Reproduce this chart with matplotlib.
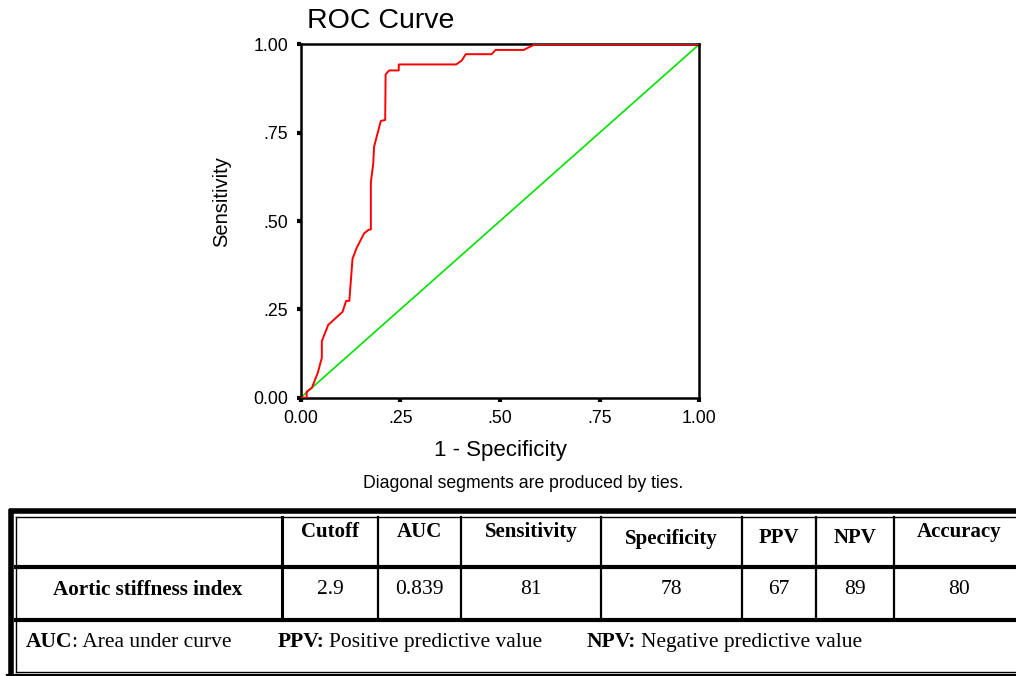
import matplotlib
matplotlib.use("Agg")
import matplotlib.pyplot as plt

# ROC curve
fpr = [0.0, 0.015, 0.015, 0.028, 0.043, 0.053, 0.053, 0.069, 0.105, 0.114, 0.122,
       0.130, 0.140, 0.159, 0.170, 0.176, 0.176, 0.182, 0.184, 0.201, 0.212, 0.213,
       0.222, 0.246, 0.246, 0.390, 0.404, 0.414, 0.479, 0.489, 0.559, 0.588, 1.0]
tpr = [0.0, 0.0, 0.017, 0.028, 0.071, 0.113, 0.160, 0.206, 0.243, 0.274, 0.274,
       0.393, 0.423, 0.465, 0.475, 0.476, 0.609, 0.663, 0.710, 0.783, 0.786, 0.915,
       0.926, 0.926, 0.943, 0.943, 0.954, 0.972, 0.972, 0.984, 0.984, 1.0, 1.0]
ref_line = [0.0, 1.0]
ticks = [0.0, 0.25, 0.5, 0.75, 1.0]
tick_labels = ["0.00", ".25", ".50", ".75", "1.00"]

# table content
col_names = ["Cutoff", "AUC", "Sensitivity", "Specificity", "PPV", "NPV", "Accuracy"]
row_name = "Aortic stiffness index"
row_values = ["2.9", "0.839", "81", "78", "67", "89", "80"]
footnotes = [("AUC", ": Area under curve"),
             ("PPV:", "Positive predictive value"),
             ("NPV:", "Negative predictive value")]

W, H = 1016, 676
fig = plt.figure(figsize=(W / 100, H / 100), dpi=100)

sans = "Liberation Sans"
serif = "Liberation Serif"

# ---- ROC plot ----
x0, x1, y1, y0 = 300.7, 699.3, 44.3, 397.7
ax = fig.add_axes([x0 / W, 1 - y0 / H, (x1 - x0) / W, (y0 - y1) / H])
ax.plot(ref_line, ref_line, color="#00e000", lw=1.2, zorder=2)
ax.plot(fpr, tpr, color="#ff0000", lw=1.4, zorder=3)
ax.set_xlim(0, 1)
ax.set_ylim(0, 1)
ax.set_xticks(ticks)
ax.set_yticks(ticks)
ax.set_xticklabels(tick_labels, family=sans, fontsize=12.8)
ax.set_yticklabels(tick_labels, family=sans, fontsize=12.8)
ax.tick_params(length=3, width=3, direction="out", pad=6)
for s in ax.spines.values():
    s.set_linewidth(1.8)
ax.set_xlabel("1 - Specificity", family=sans, fontsize=16, labelpad=9)

fig.text(222 / W, 1 - 202 / H, "Sensitivity", family=sans, fontsize=14.5,
         rotation=90, ha="center", va="center")
fig.text(307 / W, 1 - 21 / H, "ROC Curve", family=sans, fontsize=20.5,
         ha="left", va="center")
fig.text(523 / W, 1 - 483 / H, "Diagonal segments are produced by ties.",
         family=sans, fontsize=12.7, ha="center", va="center")

# ---- table (layout in pixel coordinates) ----
tx = fig.add_axes([0, 0, 1, 1], zorder=-1)
tx.set_xlim(0, W)
tx.set_ylim(H, 0)
tx.axis("off")

# outer double border
tx.plot([8.5, 1030], [510.5, 510.5], color="black", lw=4, solid_capstyle="butt")
tx.plot([15.5, 1030], [516.5, 516.5], color="black", lw=1)
tx.plot([10.5, 10.5], [508.5, 680], color="black", lw=4, solid_capstyle="butt")
tx.plot([15.5, 15.5], [516.5, 672], color="black", lw=1)
tx.plot([15.5, 1030], [671.5, 671.5], color="black", lw=1)
tx.plot([8, 1030], [675.5, 675.5], color="black", lw=3)

# inner grid
tx.plot([15.5, 1030], [567, 567], color="black", lw=3)
tx.plot([15.5, 1030], [620, 620], color="black", lw=3)
col_edges = [282, 378, 461, 601, 742, 816, 894, 1024]
for i, xe in enumerate(col_edges[:-1]):
    tx.plot([xe, xe], [516.5, 620], color="black", lw=2.2 if i == 0 else 1.6)

head_y = [532, 532, 532, 539, 538, 538, 532]
for i, name in enumerate(col_names):
    cx = (col_edges[i] + col_edges[i + 1]) / 2
    tx.text(cx, head_y[i], name, family=serif, weight="bold", fontsize=15,
            ha="center", va="center")
    tx.text(cx, 590, row_values[i], family=serif, fontsize=15.5,
            ha="center", va="center")
tx.text(148, 590, row_name, family=serif, weight="bold", fontsize=15.2,
        ha="center", va="center")

foot_x = [26, 278, 587]
for (b, n), fx in zip(footnotes, foot_x):
    t = tx.text(fx, 642, b, family=serif, weight="bold", fontsize=15.5,
                ha="left", va="center")
    tx.annotate(n, xy=(1, 0), xycoords=t, va="bottom", ha="left",
                xytext=(0 if n.startswith(":") else 3, 0),
                textcoords="offset points", family=serif, fontsize=15.5)

fig.savefig("out.png", dpi=100)
